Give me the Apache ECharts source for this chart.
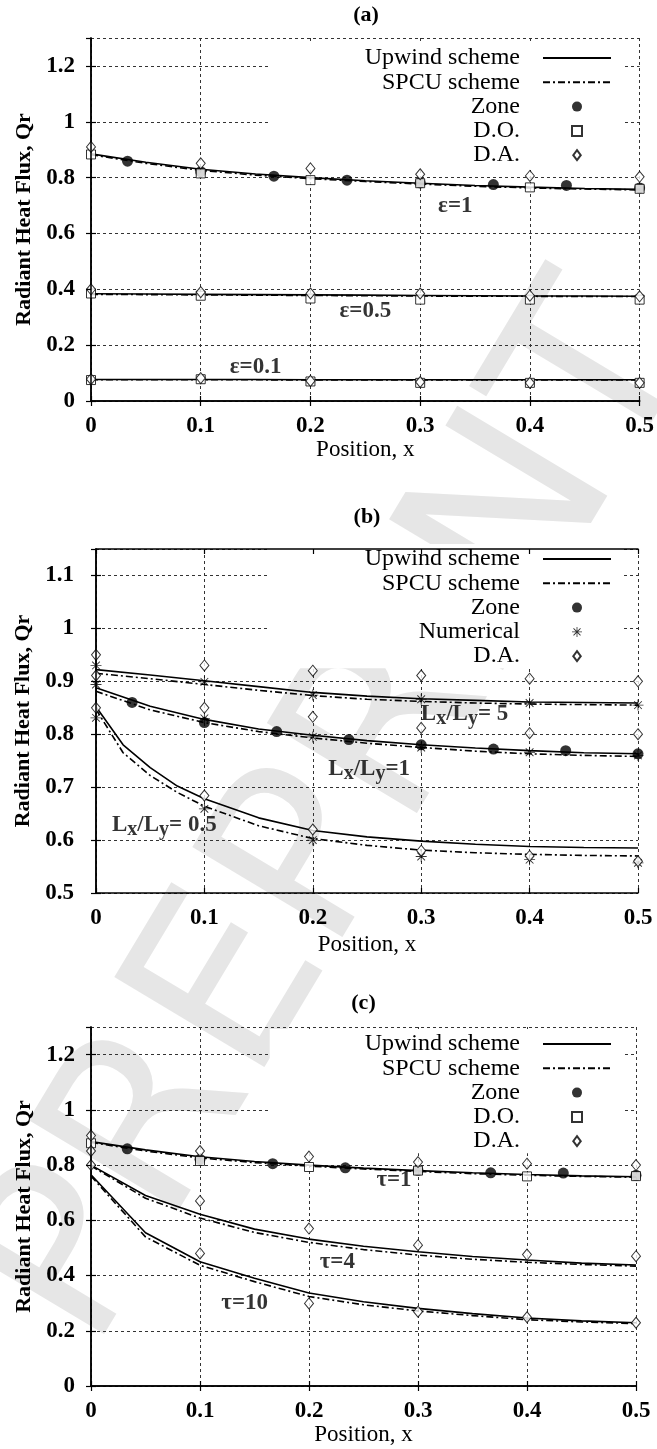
<!DOCTYPE html>
<html><head><meta charset="utf-8">
<script src="https://cdn.jsdelivr.net/npm/echarts@6/dist/echarts.min.js"></script>
<style>html,body{margin:0;padding:0;background:#fff}#c{width:657px;height:1449px}</style>
</head><body><div id="c"></div>
<script>
// ---------------- data ----------------
const xNodes = [0, 0.1, 0.2, 0.3, 0.4, 0.5];
const xZone = [0.0333, 0.1, 0.1667, 0.2333, 0.3, 0.3667, 0.4333, 0.5];
const xCurve = [0, 0.05, 0.1, 0.15, 0.2, 0.25, 0.3, 0.35, 0.4, 0.45, 0.5];
const xCurveFine = [0, 0.025, 0.05, 0.075, 0.1, 0.15, 0.2, 0.25, 0.3, 0.35, 0.4, 0.45, 0.5];

// (a) emissivity
const aUpwindE1  = [0.885, 0.855, 0.830, 0.813, 0.800, 0.789, 0.780, 0.772, 0.766, 0.761, 0.758];
const aSpcuE1    = [0.882, 0.851, 0.826, 0.809, 0.796, 0.786, 0.777, 0.769, 0.763, 0.759, 0.756];
const aUpwindE05 = [0.384, 0.383, 0.382, 0.381, 0.380, 0.379, 0.378, 0.377, 0.376, 0.376, 0.375];
const aSpcuE05   = [0.382, 0.381, 0.380, 0.379, 0.378, 0.377, 0.376, 0.375, 0.375, 0.374, 0.374];
const aUpwindE01 = [0.077, 0.077, 0.077, 0.077, 0.076, 0.076, 0.076, 0.076, 0.076, 0.076, 0.076];
const aSpcuE01   = [0.076, 0.076, 0.076, 0.076, 0.075, 0.075, 0.075, 0.075, 0.075, 0.075, 0.075];
const aZoneE1    = [0.859, 0.821, 0.805, 0.791, 0.781, 0.775, 0.772, 0.763];
const aDoE1      = [0.883, 0.815, 0.791, 0.780, 0.765, 0.760];
const aDoE05     = [0.385, 0.377, 0.367, 0.363, 0.363, 0.363];
const aDoE01     = [0.075, 0.078, 0.070, 0.065, 0.065, 0.065];
const aDaE1      = [0.910, 0.851, 0.833, 0.812, 0.806, 0.803];
const aDaE05     = [0.400, 0.390, 0.385, 0.385, 0.377, 0.375];
const aDaE01     = [0.078, 0.082, 0.072, 0.068, 0.065, 0.065];

// (b) aspect ratio
const bUpwindL5  = [0.922, 0.912, 0.901, 0.890, 0.879, 0.872, 0.867, 0.864, 0.861, 0.860, 0.859];
const bSpcuL5    = [0.915, 0.905, 0.894, 0.883, 0.873, 0.866, 0.862, 0.859, 0.857, 0.856, 0.855];
const bUpwindL1  = [0.888, 0.853, 0.828, 0.810, 0.798, 0.788, 0.780, 0.774, 0.769, 0.765, 0.763];
const bSpcuL1    = [0.881, 0.846, 0.822, 0.805, 0.793, 0.783, 0.775, 0.768, 0.763, 0.760, 0.758];
const bUpwindL05 = [0.852, 0.780, 0.737, 0.702, 0.678, 0.642, 0.618, 0.606, 0.598, 0.592, 0.588, 0.586, 0.585];
const bSpcuL05   = [0.847, 0.765, 0.722, 0.690, 0.664, 0.627, 0.603, 0.590, 0.581, 0.576, 0.573, 0.571, 0.570];
const bZoneL1    = [0.860, 0.822, 0.805, 0.790, 0.780, 0.772, 0.769, 0.763];
const bNumL5     = [0.930, 0.899, 0.874, 0.866, 0.859, 0.855];
const bNumL1     = [0.894, 0.830, 0.795, 0.775, 0.766, 0.760];
const bNumL05    = [0.831, 0.659, 0.600, 0.569, 0.563, 0.557];
const bDaL5      = [0.950, 0.930, 0.920, 0.911, 0.905, 0.900];
const bDaL1      = [0.911, 0.850, 0.833, 0.812, 0.802, 0.800];
const bDaL05     = [0.850, 0.684, 0.620, 0.580, 0.570, 0.560];

// (c) optical thickness
const cUpwindT1  = [0.885, 0.855, 0.830, 0.813, 0.800, 0.789, 0.780, 0.772, 0.766, 0.761, 0.758];
const cSpcuT1    = [0.882, 0.851, 0.826, 0.809, 0.796, 0.786, 0.777, 0.769, 0.763, 0.759, 0.756];
const cUpwindT4  = [0.800, 0.690, 0.622, 0.568, 0.532, 0.506, 0.486, 0.469, 0.456, 0.445, 0.438];
const cSpcuT4    = [0.797, 0.680, 0.608, 0.556, 0.520, 0.494, 0.474, 0.459, 0.448, 0.440, 0.434];
const cUpwindT10 = [0.765, 0.555, 0.450, 0.390, 0.337, 0.305, 0.281, 0.262, 0.246, 0.236, 0.229];
const cSpcuT10   = [0.760, 0.540, 0.437, 0.378, 0.324, 0.294, 0.272, 0.255, 0.240, 0.232, 0.226];
const cZoneT1    = [0.859, 0.821, 0.805, 0.790, 0.781, 0.772, 0.771, 0.763];
const cDoT1      = [0.879, 0.815, 0.793, 0.780, 0.759, 0.760];
const cDaT1      = [0.907, 0.851, 0.831, 0.811, 0.805, 0.800];
const cDaT4      = [0.851, 0.670, 0.570, 0.510, 0.476, 0.470];
const cDaT10     = [0.800, 0.480, 0.299, 0.269, 0.249, 0.229];

// legend entries
const legendA = ['Upwind scheme', 'SPCU scheme', 'Zone', 'D.O.', 'D.A.'];
const legendB = ['Upwind scheme', 'SPCU scheme', 'Zone', 'Numerical', 'D.A.'];
const legendC = ['Upwind scheme', 'SPCU scheme', 'Zone', 'D.O.', 'D.A.'];

// annotations [x, y, text]
const annA = [[0.332, 0.698, 'ε=1'], [0.25, 0.322, 'ε=0.5'], [0.15, 0.123, 'ε=0.1']];
const annB = [[0.34, 0.838, 'L{s|x}/L{s|y}= 5'], [0.252, 0.735, 'L{s|x}/L{s|y}=1'], [0.063, 0.628, 'L{s|x}/L{s|y}= 0.5']];
const annC = [[0.278, 0.745, 'τ=1'], [0.226, 0.45, 'τ=4'], [0.141, 0.299, 'τ=10']];

const panelTitles = ['(a)', '(b)', '(c)'];
const yRanges = [[0, 1.3, 0.2], [0.5, 1.15, 0.1], [0, 1.3, 0.2]];

// ---------------- chart ----------------
const FONT = '"Liberation Serif", "Times New Roman", serif';
const grids = [
  {left: 91, top: 38, width: 550, height: 363},
  {left: 96, top: 549, width: 542, height: 344},
  {left: 91, top: 1027, width: 545, height: 359}
];
const titleY = [15, 517, 1003];
const legendTop = [43, 544, 1029];
const xNameGap = [34, 40, 32];
const yLabelMargin = [16, 22, 16];
const zip = (xs, ys) => xs.map((x, i) => [x, ys[i]]);
const DASHDOT = [7, 3, 2, 3];

const series = [];
function line(name, p, xs, ys, dashed) {
  series.push({
    type: 'line', name, xAxisIndex: 2 * p, yAxisIndex: 2 * p, data: zip(xs, ys),
    symbol: 'none', smooth: false, z: 3, silent: true,
    lineStyle: {color: '#000', width: 1.6, type: dashed ? DASHDOT : 'solid'},
    itemStyle: {color: '#000'}
  });
}
const STAR = 'path://M-0.8,-10 L0.8,-10 L0.8,10 L-0.8,10 Z M-10,-0.8 L10,-0.8 L10,0.8 L-10,0.8 Z ' +
  'M-7.6,-6.4 L-6.4,-7.6 L7.6,6.4 L6.4,7.6 Z M6.4,-7.6 L7.6,-6.4 L-6.4,7.6 L-7.6,6.4 Z';
const ICONS = {
  zone: 'path://M0,-10 A10,10 0 1 1 0,10 A10,10 0 1 1 0,-10 Z',
  sq: 'path://M-10,-10 L10,-10 L10,10 L-10,10 Z',
  dia: 'path://M0,-12 L9,0 L0,12 L-9,0 Z',
  star: STAR
};
const KIND = {Zone: 'zone', 'D.O.': 'sq', 'D.A.': 'dia', Numerical: 'star'};
function pts(name, p, xs, ys, kind) {
  const cfg = {
    zone: {symbol: 'circle', symbolSize: 11, itemStyle: {color: '#000'}},
    sq: {symbol: 'rect', symbolSize: 9, itemStyle: {color: '#fff', borderColor: '#000', borderWidth: 1}},
    dia: {symbol: 'diamond', symbolSize: [9, 11], itemStyle: {color: '#fff', borderColor: '#000', borderWidth: 1}},
    star: {symbol: STAR, symbolSize: 11, itemStyle: {color: '#000'}}
  }[kind];
  series.push(Object.assign({
    type: 'scatter', name, xAxisIndex: 2 * p, yAxisIndex: 2 * p, data: zip(xs, ys), z: 4, silent: true
  }, cfg));
}
function ann(p, list) {
  series.push({
    type: 'scatter', name: 'ann' + p, xAxisIndex: 2 * p, yAxisIndex: 2 * p, z: 6, silent: true,
    symbol: 'circle', symbolSize: 1, itemStyle: {color: 'rgba(0,0,0,0)'},
    data: list.map(d => ({value: [d[0], d[1]], label: {formatter: d[2]}})),
    label: {show: true, position: 'inside', color: '#000', fontFamily: FONT, fontWeight: 'bold', fontSize: 23,
      rich: {s: {fontFamily: FONT, fontWeight: 'bold', fontSize: 20, padding: [10, 0, 0, 0]}}}
  });
}

// (a)
line('Upwind scheme', 0, xCurve, aUpwindE1);  line('SPCU scheme', 0, xCurve, aSpcuE1, true);
line('Upwind scheme', 0, xCurve, aUpwindE05); line('SPCU scheme', 0, xCurve, aSpcuE05, true);
line('Upwind scheme', 0, xCurve, aUpwindE01); line('SPCU scheme', 0, xCurve, aSpcuE01, true);
pts('Zone', 0, xZone, aZoneE1, 'zone');
pts('D.O.', 0, xNodes, aDoE1, 'sq'); pts('D.O.', 0, xNodes, aDoE05, 'sq'); pts('D.O.', 0, xNodes, aDoE01, 'sq');
pts('D.A.', 0, xNodes, aDaE1, 'dia'); pts('D.A.', 0, xNodes, aDaE05, 'dia'); pts('D.A.', 0, xNodes, aDaE01, 'dia');
ann(0, annA);
// (b)
line('Upwind scheme', 1, xCurve, bUpwindL5);  line('SPCU scheme', 1, xCurve, bSpcuL5, true);
line('Upwind scheme', 1, xCurve, bUpwindL1);  line('SPCU scheme', 1, xCurve, bSpcuL1, true);
line('Upwind scheme', 1, xCurveFine, bUpwindL05); line('SPCU scheme', 1, xCurveFine, bSpcuL05, true);
pts('Zone', 1, xZone, bZoneL1, 'zone');
pts('Numerical', 1, xNodes, bNumL5, 'star'); pts('Numerical', 1, xNodes, bNumL1, 'star'); pts('Numerical', 1, xNodes, bNumL05, 'star');
pts('D.A.', 1, xNodes, bDaL5, 'dia'); pts('D.A.', 1, xNodes, bDaL1, 'dia'); pts('D.A.', 1, xNodes, bDaL05, 'dia');
ann(1, annB);
// (c)
line('Upwind scheme', 2, xCurve, cUpwindT1);  line('SPCU scheme', 2, xCurve, cSpcuT1, true);
line('Upwind scheme', 2, xCurve, cUpwindT4);  line('SPCU scheme', 2, xCurve, cSpcuT4, true);
line('Upwind scheme', 2, xCurve, cUpwindT10); line('SPCU scheme', 2, xCurve, cSpcuT10, true);
pts('Zone', 2, xZone, cZoneT1, 'zone');
pts('D.O.', 2, xNodes, cDoT1, 'sq');
pts('D.A.', 2, xNodes, cDaT1, 'dia'); pts('D.A.', 2, xNodes, cDaT4, 'dia'); pts('D.A.', 2, xNodes, cDaT10, 'dia');
ann(2, annC);

const tickLbl = {color: '#000', fontFamily: FONT, fontWeight: 'bold', fontSize: 23};
const xAxis = [], yAxis = [];
grids.forEach((g, p) => {
  const [ymin, ymax, yint] = yRanges[p];
  xAxis.push({
    type: 'value', gridIndex: p, min: 0, max: 0.5, interval: 0.1, position: 'bottom',
    name: 'Position, x', nameLocation: 'middle', nameGap: xNameGap[p],
    nameTextStyle: {color: '#000', fontFamily: FONT, fontSize: 23},
    axisLine: {show: true, lineStyle: {color: '#000', width: 1.5}},
    axisTick: {show: true, inside: true, length: 5, lineStyle: {color: '#000', width: 1.2}},
    axisLabel: Object.assign({margin: 14, formatter: v => String(+v.toFixed(1))}, tickLbl),
    splitLine: {show: true, lineStyle: {color: '#333', width: 1, type: [3, 3]}}, z: 1
  });
  xAxis.push({
    type: 'value', gridIndex: p, min: 0, max: 0.5, interval: 0.1, position: 'top',
    axisLine: {show: true, lineStyle: {color: '#000', width: 1.5}},
    axisTick: {show: true, inside: true, length: 5, lineStyle: {color: '#000', width: 1.2}},
    axisLabel: {show: false}, splitLine: {show: false}, z: 8
  });
  yAxis.push({
    type: 'value', gridIndex: p, min: ymin, max: ymax, interval: yint, position: 'left',
    name: 'Radiant Heat Flux, Qr', nameLocation: 'middle', nameGap: p === 1 ? 57 : 52,
    nameTextStyle: {color: '#000', fontFamily: FONT, fontSize: 22, fontWeight: 'bold'},
    axisLine: {show: true, lineStyle: {color: '#000', width: 1.5}},
    axisTick: {show: true, inside: true, length: 5, lineStyle: {color: '#000', width: 1.2}},
    axisLabel: Object.assign({margin: yLabelMargin[p], showMaxLabel: false, formatter: v => String(+v.toFixed(2))}, tickLbl),
    splitLine: {show: true, lineStyle: {color: '#333', width: 1, type: [3, 3]}}, z: 1
  });
  yAxis.push({
    type: 'value', gridIndex: p, min: ymin, max: ymax, interval: yint, position: 'right',
    axisLine: {show: true, lineStyle: {color: '#000', width: 1.5}},
    axisTick: {show: true, inside: true, length: 5, lineStyle: {color: '#000', width: 1.2}},
    axisLabel: {show: false}, splitLine: {show: false}, z: 8
  });
});

function legend(names, top) {
  return {
    data: names.map(n => KIND[n]
      ? {name: n, icon: ICONS[KIND[n]]}
      : {name: n, itemStyle: {opacity: 0}}),
    orient: 'vertical', align: 'right', right: 33, top,
    itemWidth: 68, itemHeight: 10, itemGap: 0.3, symbolKeepAspect: true,
    padding: [3, 12, 0, 95], backgroundColor: '#fff',
    formatter: n => n + '   ',
    textStyle: {color: '#000', fontFamily: FONT, fontSize: 24, lineHeight: 22},
    selectedMode: false, z: 2
  };
}

const titleGraphics = panelTitles.map((t, p) => ({
  type: 'text', x: grids[p].left + grids[p].width / 2, y: titleY[p],
  style: {text: t, align: 'center', verticalAlign: 'middle', font: 'bold 22px ' + FONT, fill: '#000'}
}));

const chart = echarts.init(document.getElementById('c'), null, {renderer: 'canvas'});
chart.setOption({
  backgroundColor: '#fff',
  animation: false,
  grid: grids.map(g => Object.assign({containLabel: false}, g)),
  xAxis, yAxis, series,
  legend: [legend(legendA, legendTop[0]), legend(legendB, legendTop[1]), legend(legendC, legendTop[2])],
  graphic: [{
    type: 'text', x: 340, y: 820, rotation: 1.03, z: -1, silent: true,
    style: {text: 'PREPRINT', align: 'center', verticalAlign: 'middle',
      font: '240px "DejaVu Sans"', fill: '#e6e6e6'}
  }].concat(titleGraphics)
});
</script></body></html>
